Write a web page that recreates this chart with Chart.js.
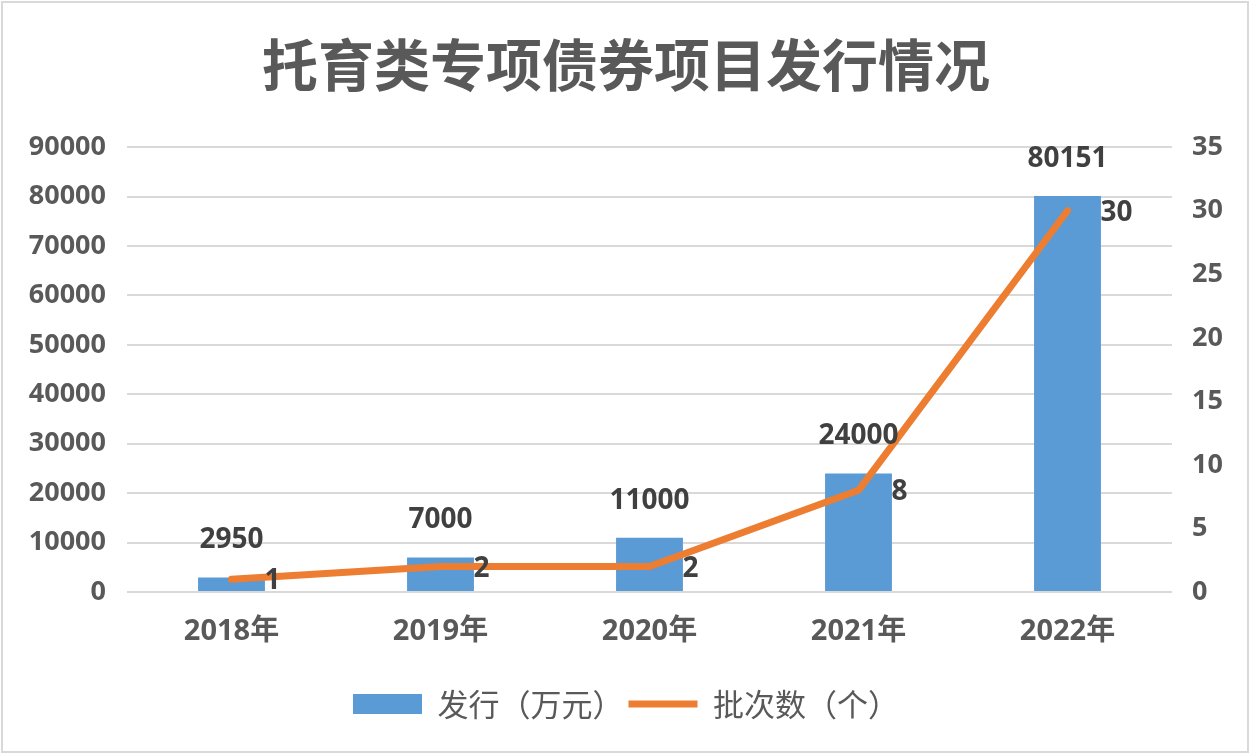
<!DOCTYPE html>
<html>
<head>
<meta charset="utf-8">
<script src="https://cdn.jsdelivr.net/npm/chart.js@4.4.1/dist/chart.umd.min.js"></script>
<style>
html, body { margin: 0; padding: 0; background: #fff; }
#wrap { position: relative; width: 1252px; height: 756px; }
#frame { position: absolute; left: 1px; top: 1px; width: 1244px; height: 748px; border: 2px solid #d9d9d9; pointer-events: none; }
</style>
</head>
<body>
<div id="wrap">
  <canvas id="chart" width="1252" height="756"></canvas>
  <div id="frame"></div>
</div>
<script>
// ---- data ----
const years = ['2018年', '2019年', '2020年', '2021年', '2022年'];
const issueAmount = [2950, 7000, 11000, 24000, 80151];   // 发行（万元）
const batchCount = [1, 2, 2, 8, 30];                     // 批次数（个）
const leftAxisMax = 90000, leftAxisStep = 10000;
const rightAxisMax = 35, rightAxisStep = 5;

const numFont = '"Noto Sans", "Noto Sans CJK SC", sans-serif';
const cjkFont = '"Noto Sans CJK SC", "Noto Sans", sans-serif';

// value labels, drawn the way Excel puts them
const valueLabels = {
    id: 'valueLabels',
    afterDatasetsDraw(chart) {
        const ctx = chart.ctx;
        ctx.save();
        ctx.fillStyle = '#404040';
        ctx.font = 'bold 28px ' + numFont;
        ctx.textBaseline = 'middle';
        chart.data.datasets.forEach((ds, i) => {
            const meta = chart.getDatasetMeta(i);
            meta.data.forEach((el, j) => {
                const v = String(ds.data[j]);
                if (meta.type === 'bar') {
                    ctx.textAlign = 'center';
                    ctx.fillText(v, el.x, el.y - 37);
                } else {
                    ctx.textAlign = 'left';
                    ctx.fillText(v, el.x + 33, el.y + 2);
                }
            });
        });
        ctx.restore();
    }
};

new Chart(document.getElementById('chart'), {
    data: {
        labels: years,
        datasets: [
            {
                type: 'bar',
                label: '发行（万元）',
                data: issueAmount,
                yAxisID: 'y',
                backgroundColor: '#5b9bd5',
                borderWidth: 0,
                categoryPercentage: 1,
                barPercentage: 0.32,
                pointStyle: 'rect',
                order: 2
            },
            {
                type: 'line',
                label: '批次数（个）',
                data: batchCount,
                yAxisID: 'y1',
                borderColor: '#ed7d31',
                backgroundColor: '#ed7d31',
                borderWidth: 7,
                borderCapStyle: 'round',
                borderJoinStyle: 'round',
                tension: 0,
                pointRadius: 0,
                pointHoverRadius: 0,
                pointStyle: 'line',
                order: 1
            }
        ]
    },
    options: {
        responsive: false,
        animation: false,
        layout: { padding: { left: 0, right: 0, top: 0, bottom: 26.5 } },
        plugins: {
            title: {
                display: true,
                text: '托育类专项债券项目发行情况',
                color: '#595959',
                font: { family: cjkFont, size: 56, weight: 'bold' },
                padding: { top: 31, bottom: 49 }
            },
            legend: {
                position: 'bottom',
                labels: {
                    color: '#595959',
                    font: { family: cjkFont, size: 31, weight: 'normal' },
                    usePointStyle: true,
                    pointStyleWidth: 69,
                    boxWidth: 69,
                    boxHeight: 20,
                    padding: 5,
                    sort: (a, b) => a.datasetIndex - b.datasetIndex
                }
            },
            tooltip: { enabled: false }
        },
        scales: {
            x: {
                grid: { display: false, drawTicks: false },
                border: { display: false },
                ticks: {
                    color: '#595959',
                    padding: 22,
                    font: { family: numFont, size: 29, weight: 'bold' }
                },
                afterFit(s) { s.height = 91.5; }
            },
            y: {
                position: 'left',
                min: 0,
                max: leftAxisMax,
                grid: { color: '#d9d9d9', lineWidth: 2, drawTicks: false },
                border: { display: false },
                ticks: {
                    stepSize: leftAxisStep,
                    color: '#595959',
                    padding: 21,
                    font: { family: numFont, size: 27, weight: 'bold' },
                    callback: v => String(v)
                },
                afterFit(s) { s.width = 127; }
            },
            y1: {
                position: 'right',
                min: 0,
                max: rightAxisMax,
                grid: { display: false, drawTicks: false },
                border: { display: false },
                ticks: {
                    stepSize: rightAxisStep,
                    color: '#595959',
                    padding: 20,
                    font: { family: numFont, size: 27, weight: 'bold' },
                    callback: v => String(v)
                },
                afterFit(s) { s.width = 80; }
            }
        }
    },
    plugins: [valueLabels]
});
</script>
</body>
</html>
